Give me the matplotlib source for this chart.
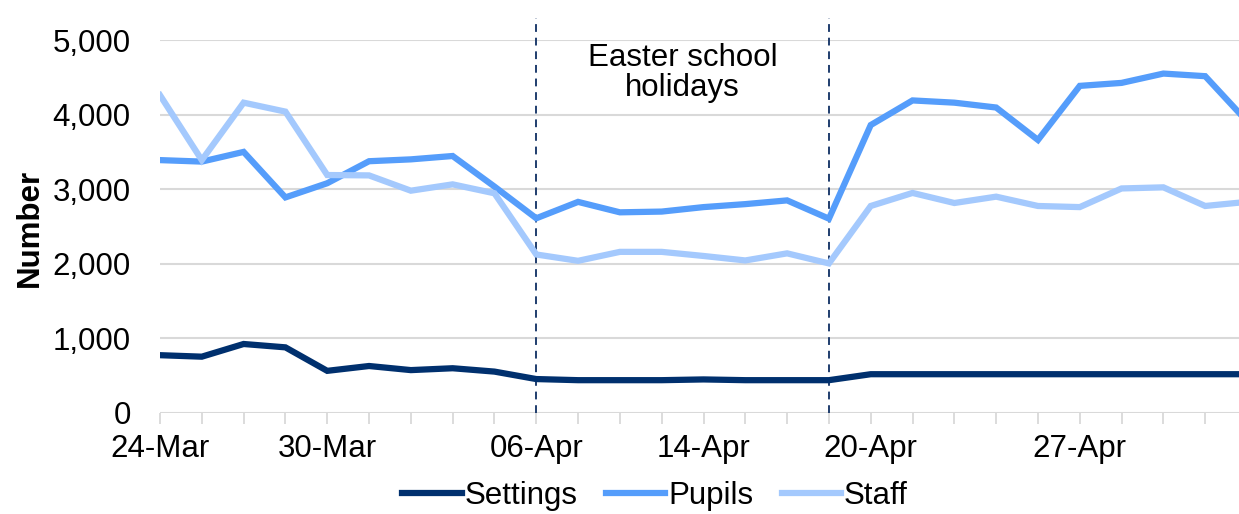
import matplotlib.pyplot as plt

plt.rcParams['font.family'] = ['Liberation Sans', 'DejaVu Sans']

# weekday dates shown on the axis (last point cut off by the crop)
dates = ['24-Mar', '25-Mar', '26-Mar', '27-Mar', '30-Mar', '31-Mar', '01-Apr', '02-Apr', '03-Apr',
         '06-Apr', '07-Apr', '08-Apr', '09-Apr', '14-Apr', '15-Apr', '16-Apr', '17-Apr',
         '20-Apr', '21-Apr', '22-Apr', '23-Apr', '24-Apr', '27-Apr', '28-Apr', '29-Apr', '30-Apr', '01-May']
settings = [775, 755, 925, 880, 565, 630, 575, 600, 555, 455, 440, 440, 440, 450, 440, 440, 440,
            520, 520, 520, 520, 520, 520, 520, 520, 520, 520]
pupils = [3390, 3370, 3500, 2890, 3080, 3375, 3400, 3445, 3035, 2610, 2830, 2690, 2700, 2760,
          2800, 2850, 2605, 3860, 4190, 4160, 4095, 3660, 4385, 4425, 4550, 4515, 3910]
staff = [4260, 3390, 4160, 4040, 3190, 3185, 2980, 3065, 2945, 2125, 2040, 2160, 2160, 2105,
         2045, 2140, 2005, 2775, 2950, 2815, 2900, 2775, 2760, 3010, 3025, 2775, 2830]
labelled = ['24-Mar', '30-Mar', '06-Apr', '14-Apr', '20-Apr', '27-Apr']
holiday_start = '06-Apr'
holiday_end = '17-Apr'

FS = 22.5
W, H = 1239, 514
fig = plt.figure(figsize=(W / 100, H / 100), dpi=100)
ax = fig.add_axes([160 / W, 1 - 413 / H, (1247 - 160) / W, (413 - 40) / H])

x = list(range(len(dates)))
ax.plot(x, settings, color='#00306e', lw=4.5, label='Settings', solid_joinstyle='miter')
ax.plot(x, pupils, color='#559dfb', lw=4.5, label='Pupils', solid_joinstyle='miter')
ax.plot(x, staff, color='#a4c9fd', lw=4.5, label='Staff', solid_joinstyle='miter')

# holiday markers
for d in (holiday_start, holiday_end):
    xi = dates.index(d)
    ax.plot([xi, xi], [0, 5300], color='#1f3d6e', lw=1.4, ls=(0, (4, 3)), clip_on=False, zorder=1)
mid = (dates.index(holiday_start) + dates.index(holiday_end)) / 2
ax.text(mid, 4560, 'Easter school\nholidays', ha='center', va='center', fontsize=FS, linespacing=1.0)

ax.set_xlim(0, len(dates) - 1)
ax.set_ylim(0, 5000)
ax.set_yticks(range(0, 5001, 1000))
ax.set_yticklabels([f'{v:,}' for v in range(0, 5001, 1000)])
ax.set_xticks(x)
ax.set_xticklabels([d if d in labelled else '' for d in dates])
ax.tick_params(axis='y', length=0, pad=21, labelsize=FS)
ax.tick_params(axis='x', length=8, width=1.3, color='#d9d9d9', pad=7, labelsize=FS)
ax.grid(axis='y', color='#d9d9d9', lw=1.5)
ax.set_axisbelow(True)
for s in ax.spines.values():
    s.set_visible(False)

fig.text(30 / W, 1 - 228 / H, 'Number', rotation=90, ha='center', va='center',
         fontsize=FS, fontweight='bold')

fig.legend(loc='center', bbox_to_anchor=(655 / W, 1 - 496 / H), ncol=3, frameon=False,
           fontsize=FS, handlelength=1.9, handletextpad=0.1, columnspacing=0.9,
           borderaxespad=0, borderpad=0)

fig.savefig('out.png', dpi=100)
